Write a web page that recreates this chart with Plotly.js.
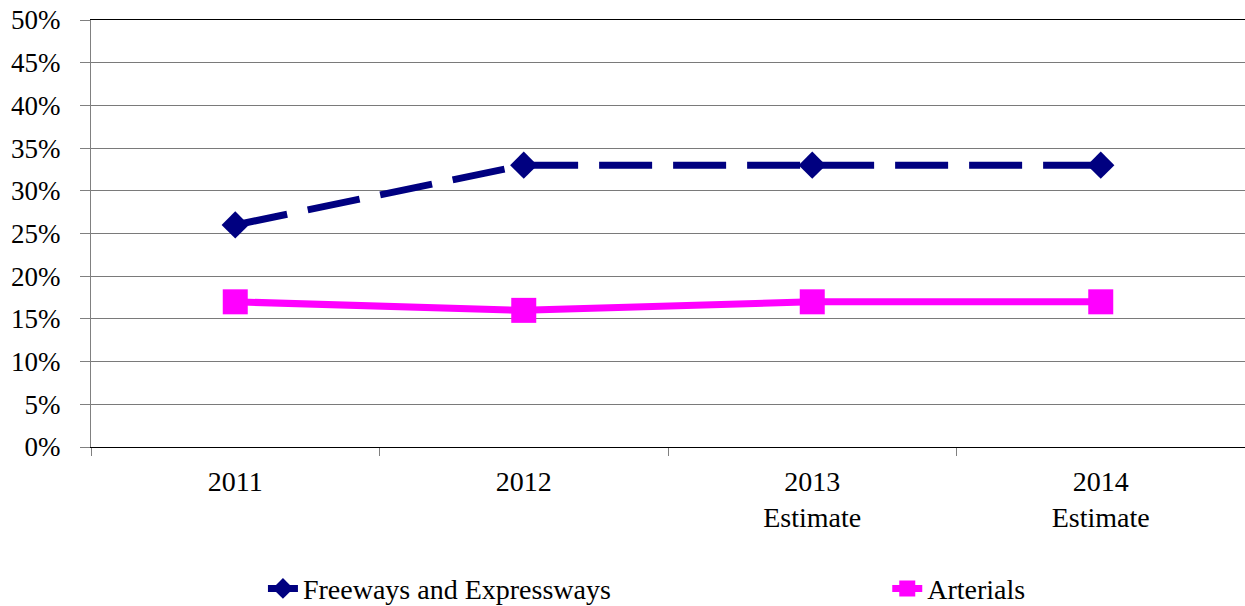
<!DOCTYPE html>
<html>
<head>
<meta charset="utf-8">
<script src="https://cdn.plot.ly/plotly-3.0.1.min.js"></script>
<style>html,body{margin:0;padding:0;background:#fff;}#chart{width:1245px;height:606px;}</style>
</head>
<body>
<div id="chart"></div>
<script>
const categories = ["2011", "2012", "2013<br>Estimate", "2014<br>Estimate"];
const freeways = [0.26, 0.33, 0.33, 0.33];
const arterials = [0.17, 0.16, 0.17, 0.17];
const seriesNames = ["Freeways and Expressways", "Arterials"];
const yTickVals = [0, 0.05, 0.10, 0.15, 0.20, 0.25, 0.30, 0.35, 0.40, 0.45, 0.50];

const family = "'Times New Roman', Times, 'Liberation Serif', serif";
const font = {family: family, size: 28, color: "#000"};
const yFont = {family: family, size: 27, color: "#000"};

const traces = [
  {
    x: categories, y: freeways, name: seriesNames[0], type: "scatter", mode: "lines+markers",
    line: {color: "#000080", width: 7, dash: "53px,21px"},
    marker: {symbol: "diamond", size: 21, color: "#000080"},
    legend: "legend"
  },
  {
    x: categories, y: arterials, name: seriesNames[1], type: "scatter", mode: "lines+markers",
    line: {color: "#ff00ff", width: 7},
    marker: {symbol: "square", size: 25, color: "#ff00ff"},
    legend: "legend2"
  }
];

const layout = {
  width: 1245, height: 606,
  margin: {l: 91, r: 0, t: 20, b: 159, autoexpand: false},
  paper_bgcolor: "#fff", plot_bgcolor: "#fff",
  font: font,
  showlegend: true,
  legend: {
    orientation: "h", x: 0.149, xanchor: "left", y: -0.332, yanchor: "middle",
    font: font, bgcolor: "rgba(0,0,0,0)"
  },
  legend2: {
    orientation: "h", x: 0.69, xanchor: "left", y: -0.332, yanchor: "middle",
    font: font, bgcolor: "rgba(0,0,0,0)"
  },
  xaxis: {
    type: "category", range: [-0.5, 3.5], automargin: false,
    tickson: "boundaries", ticks: "outside", ticklen: 8, tickcolor: "#808080", tickwidth: 1,
    ticklabelstandoff: 9,
    showline: true, linecolor: "#000", linewidth: 1, mirror: true,
    showgrid: false, tickfont: font, fixedrange: true
  },
  yaxis: {
    range: [0, 0.5], tickvals: yTickVals, tickformat: ".0%", automargin: false,
    ticks: "outside", ticklen: 10, tickcolor: "#808080", ticklabelstandoff: 14,
    showline: true, linecolor: "#808080", linewidth: 1,
    showgrid: true, gridcolor: "#7a7a7a", gridwidth: 1,
    zeroline: false, tickfont: yFont, fixedrange: true
  }
};

Plotly.newPlot("chart", traces, layout, {displayModeBar: false, staticPlot: true});
</script>
</body>
</html>
